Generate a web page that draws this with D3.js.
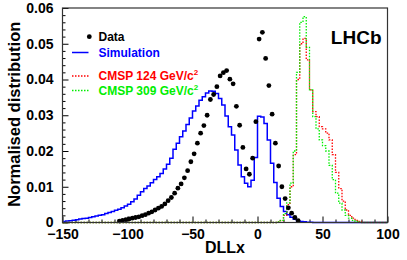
<!DOCTYPE html>
<html>
<head>
<meta charset="utf-8">
<script src="https://cdn.jsdelivr.net/npm/d3@7"></script>
<style>
  body { margin: 0; background: #fff; }
  text { font-family: "Liberation Sans", Arial, Helvetica, sans-serif; font-weight: bold; }
</style>
</head>
<body>
<div id="chart"></div>
<script>
// DLLx distributions - data, simulation and CMSP signal

const binWidth = 2.5;
const xMajorTicks = [-150, -100, -50, 0, 50, 100];
const yMajorTicks = [0, 0.01, 0.02, 0.03, 0.04, 0.05, 0.06];

// Simulation (blue histogram), first bin starts at -150
const simStart = -150;
const simValues = [
    0.0003, 0.0004, 0.0005, 0.0006, 0.0008, 0.0010, 0.0011, 0.0012, 0.0014, 0.0016,
    0.0018, 0.0020, 0.0022, 0.0025, 0.0028, 0.0031, 0.0034, 0.0037, 0.0041, 0.0046,
    0.0051, 0.0058, 0.0066, 0.0076, 0.0086, 0.0095, 0.0102, 0.0111, 0.0120, 0.0128,
    0.0137, 0.0150, 0.0163, 0.0180, 0.0205, 0.0222, 0.0240, 0.0256, 0.0274, 0.0292,
    0.0312, 0.0326, 0.0342, 0.0352, 0.0362, 0.0368, 0.0367, 0.0361, 0.0347, 0.0329,
    0.0298, 0.0268, 0.0245, 0.0203, 0.0161, 0.0128, 0.0110, 0.0100, 0.0118, 0.0182,
    0.0297, 0.0295, 0.0277, 0.0231, 0.0166, 0.0112, 0.0068, 0.0045, 0.0031, 0.0022,
    0.0015, 0.0009, 0.0005, 0.0003, 0.0002, 0.0001, 0.0001
];

// Data points (black dots), first bin starts at -107.5
const dataStart = -107.5;
const dataValues = [
    0.0004, 0.0006, 0.0008, 0.0010, 0.0012, 0.0014, 0.0016, 0.0019, 0.0022, 0.0026,
    0.0030, 0.0035, 0.0040, 0.0045, 0.0052, 0.0061, 0.0070, 0.0082, 0.0096, 0.0108,
    0.0125, 0.0145, 0.0170, 0.0192, 0.0222, 0.0250, 0.0271, 0.0300, 0.0344, 0.0358,
    0.0380, 0.0410, 0.0419, 0.0425, 0.0401, 0.0388, 0.0325, 0.0272, 0.0210, 0.0150,
    0.0135, 0.0180, 0.0282, 0.0513, 0.0532, 0.0459, 0.0383, 0.0303, 0.0222, 0.0158,
    0.0100, 0.0067, 0.0041, 0.0026, 0.0014, 0.0005
];

// CMSP signal histograms, first bin starts at 15
const cmspStart = 15;
const cmsp124 = [
    0.0002, 0.0005, 0.0020, 0.0050, 0.0100, 0.0190, 0.0400, 0.0500, 0.0515, 0.0455,
    0.0371, 0.0310, 0.0296, 0.0268, 0.0262, 0.0250, 0.0231, 0.0190, 0.0140, 0.0095,
    0.0060, 0.0035, 0.0020, 0.0012, 0.0006, 0.0003
];
const cmsp309 = [
    0.0002, 0.0006, 0.0025, 0.0055, 0.0110, 0.0200, 0.0420, 0.0560, 0.0576, 0.0490,
    0.0371, 0.0296, 0.0262, 0.0231, 0.0215, 0.0200, 0.0160, 0.0120, 0.0082, 0.0054,
    0.0035, 0.0020, 0.0012, 0.0006, 0.0003, 0.0001
];

const colors = { data: '#000000', sim: '#0000ff', c124: '#ff0000', c309: '#00ee00' };

const W = 407, H = 260;
const margin = { top: 8, right: 19.5, bottom: 37.5, left: 62.5 };
const width = W - margin.left - margin.right;
const height = H - margin.top - margin.bottom;

const svg = d3.select('#chart').append('svg')
    .attr('width', W)
    .attr('height', H)
    .append('g')
    .attr('transform', `translate(${margin.left},${margin.top})`);

// Escalas
const x = d3.scaleLinear().domain([-150, 100]).range([0, width]);
const y = d3.scaleLinear().domain([0, 0.06]).range([height, 0]);

// histogram -> list of [edge, value] points for a step path
function histPoints(start, values, padToRange) {
    const pts = [];
    if (padToRange) pts.push([x.domain()[0], 0], [start, 0]);
    values.forEach((v, i) => pts.push([start + i * binWidth, v]));
    const end = start + values.length * binWidth;
    pts.push([end, values[values.length - 1]]);
    pts.push([end, 0], [x.domain()[1], 0]);
    return pts;
}

const stepLine = d3.line()
    .x(d => x(d[0]))
    .y(d => y(d[1]))
    .curve(d3.curveStepAfter);

// Eixos
const xMinor = d3.range(-140, 100, 10).filter(v => !xMajorTicks.includes(v));
const yMinor = d3.range(0.002, 0.06, 0.002).map(v => +v.toFixed(3)).filter(v => !yMajorTicks.includes(v));

svg.append('g')
    .attr('transform', `translate(0,${height})`)
    .call(d3.axisBottom(x).tickValues(xMinor).tickSize(-3).tickFormat(''))
    .call(g => g.select('.domain').remove());
svg.append('g')
    .attr('class', 'axis')
    .attr('transform', `translate(0,${height})`)
    .call(d3.axisBottom(x).tickValues(xMajorTicks).tickSize(-6).tickPadding(7).tickFormat(d3.format('d')))
    .call(g => g.select('.domain').remove());

svg.append('g')
    .call(d3.axisLeft(y).tickValues(yMinor).tickSize(-3).tickFormat(''))
    .call(g => g.select('.domain').remove());
svg.append('g')
    .attr('class', 'axis')
    .call(d3.axisLeft(y).tickValues(yMajorTicks).tickSize(-6).tickPadding(9)
        .tickFormat(d => d === 0 ? '0' : d3.format('.2f')(d)))
    .call(g => g.select('.domain').remove());

svg.selectAll('.axis text')
    .style('font-size', '14px')
    .attr('fill', '#000');
svg.selectAll('.tick line').attr('stroke', '#000');

// Histogramas
svg.append('path')
    .datum(histPoints(simStart, simValues, false))
    .attr('fill', 'none')
    .attr('stroke', colors.sim)
    .attr('stroke-width', 1.5)
    .attr('d', stepLine);

svg.append('path')
    .datum(histPoints(cmspStart, cmsp124, true))
    .attr('fill', 'none')
    .attr('stroke', colors.c124)
    .attr('stroke-width', 1.3)
    .attr('stroke-dasharray', '1.5,1.5')
    .attr('d', stepLine);

svg.append('path')
    .datum(histPoints(cmspStart, cmsp309, true))
    .attr('fill', 'none')
    .attr('stroke', colors.c309)
    .attr('stroke-width', 1.3)
    .attr('stroke-dasharray', '1.5,1.5')
    .attr('d', stepLine);

// Pontos
svg.selectAll('.dot')
    .data(dataValues)
    .enter().append('circle')
    .attr('class', 'dot')
    .attr('cx', (d, i) => x(dataStart + (i + 0.5) * binWidth))
    .attr('cy', d => y(d))
    .attr('r', 2.4)
    .attr('fill', colors.data);

// Moldura
svg.append('rect')
    .attr('width', width)
    .attr('height', height)
    .attr('fill', 'none')
    .attr('stroke', '#333')
    .attr('stroke-width', 1.2);

// Legenda
const legendItems = [
    { label: 'Data', color: colors.data, type: 'dot', sup: false },
    { label: 'Simulation', color: colors.sim, type: 'line', sup: false },
    { label: 'CMSP 124 GeV/c', color: colors.c124, type: 'dash', sup: true },
    { label: 'CMSP 309 GeV/c', color: colors.c309, type: 'dash', sup: true }
];
const legendY = [28.7, 44.5, 68, 82.5];

const legend = svg.append('g').attr('class', 'legend');
legendItems.forEach((item, i) => {
    const lg = legend.append('g').attr('transform', `translate(0,${legendY[i]})`);
    if (item.type === 'dot') {
        lg.append('circle').attr('cx', 26.8).attr('cy', 0).attr('r', 2.4).attr('fill', item.color);
    } else {
        lg.append('line')
            .attr('x1', 9.5).attr('x2', 26)
            .attr('y1', 0).attr('y2', 0)
            .attr('stroke', item.color)
            .attr('stroke-width', item.type === 'line' ? 1.5 : 1.3)
            .attr('stroke-dasharray', item.type === 'dash' ? '1.5,1.5' : null);
    }
    const t = lg.append('text')
        .attr('x', 36)
        .attr('y', 4.3)
        .style('font-size', '12px')
        .attr('fill', item.color)
        .text(item.label);
    if (item.sup) {
        t.append('tspan').attr('dy', -5).style('font-size', '8px').text('2');
    }
});

// LHCb
svg.append('text')
    .attr('x', width - 6)
    .attr('y', 36)
    .style('text-anchor', 'end')
    .style('font-size', '19px')
    .text('LHCb');

// Título dos eixos
svg.append('text')
    .attr('x', width / 2)
    .attr('y', height + 30.5)
    .style('text-anchor', 'middle')
    .style('font-size', '16px')
    .text('DLLx');

svg.append('text')
    .attr('transform', 'rotate(-90)')
    .attr('x', -(height / 2) + 1)
    .attr('y', -42.5)
    .style('text-anchor', 'middle')
    .style('font-size', '16.5px')
    .text('Normalised distribution');
</script>
</body>
</html>
